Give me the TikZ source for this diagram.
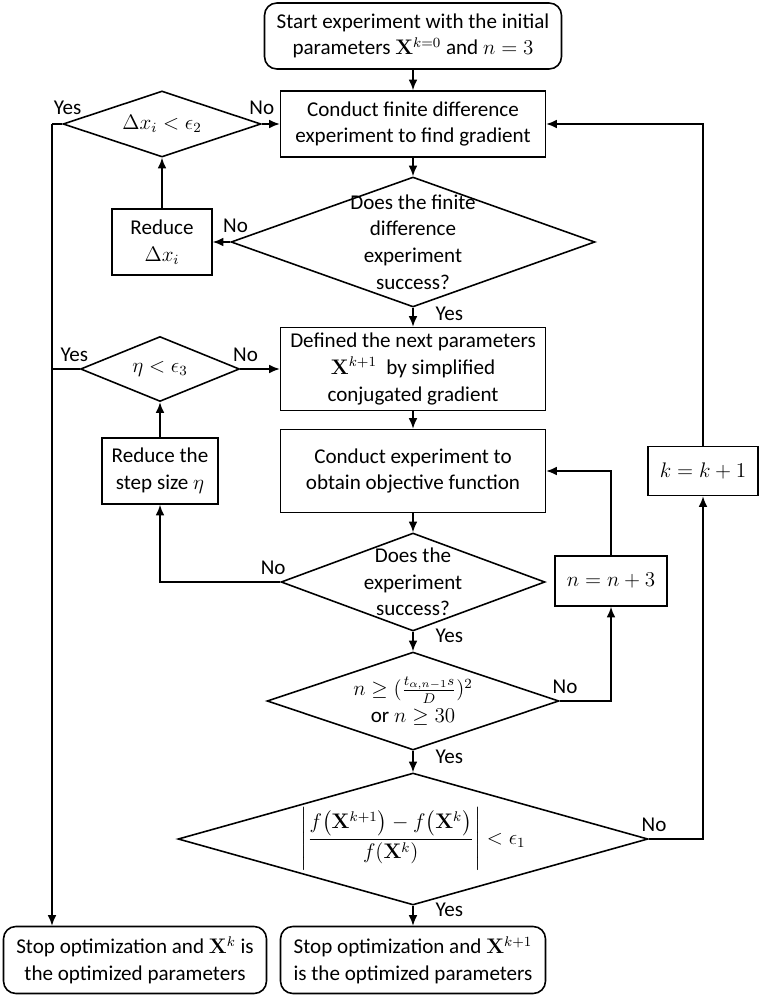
\documentclass[tikz,border=0pt]{standalone}
\usepackage[no-math]{fontspec}
\setmainfont{Carlito}
\usepackage{amsmath}
\usetikzlibrary{shapes.geometric,arrows.meta}

\begin{document}
\begin{tikzpicture}[x=0.02cm, y=-0.02cm, line width=0.9pt, >={Latex[length=6pt,width=5pt]},
    font=\fontsize{12pt}{15.2pt}\selectfont,
    box/.style={draw, align=center, inner sep=2pt},
    endbox/.style={box, rounded corners=7pt},
    dia/.style={draw, diamond, inner sep=0pt},
    txt/.style={align=center, inner sep=0pt},
    lbl/.style={inner sep=1pt}]
    \useasboundingbox (0,0) rectangle (762,1000);
    % Start
    \node[endbox, minimum width=5.94cm, minimum height=1.32cm] (start) at (413,36)
        {Start experiment with the initial\\ parameters $\mathbf{X}^{k=0}$ and $n=3$};
    % Gradient
    \node[box, minimum width=5.3cm, minimum height=1.32cm] (fdexp) at (413,124)
        {Conduct finite difference\\ experiment to find gradient};
    \node[dia, minimum width=3.96cm, minimum height=1.32cm] (dxchk) at (162,124) {};
    \node[txt] (dxchktext) at (dxchk) {$\Delta x_i<\epsilon_2$};
    \node[dia, minimum width=7.28cm, minimum height=2.6cm] (fdok) at (413,242) {};
    \node[txt] (fdoktext) at (fdok) {Does the finite\\ difference\\ experiment\\ success?};
    \node[box, minimum width=2cm, minimum height=1.32cm] (reddx) at (162,242) {Reduce\\ $\Delta x_i$};
    % Step
    \node[box, minimum width=5.3cm, minimum height=1.66cm] (define) at (413,369)
        {Defined the next parameters\\ $\mathbf{X}^{k+1}$\ \ by simplified\\ conjugated gradient};
    \node[dia, minimum width=3.18cm, minimum height=1.3cm] (etachk) at (160,369) {};
    \node[txt] (etachktext) at (etachk) {$\eta<\epsilon_3$};
    \node[box, minimum width=2.32cm, minimum height=1.32cm] (redeta) at (160,471) {Reduce the\\ step size $\eta$};
    \node[box, minimum width=5.3cm, minimum height=1.66cm] (objexp) at (413,471)
        {Conduct experiment to\\ obtain objective function};
    \node[box, minimum width=2.2cm, minimum height=0.98cm] (kinc) at (703,471) {$k=k+1$};
    \node[dia, minimum width=5.28cm, minimum height=1.96cm] (expok) at (413,582) {};
    \node[txt] (expoktext) at (expok) {Does the\\ experiment\\ success?};
    \node[box, minimum width=2.24cm, minimum height=1cm] (ninc) at (611,581) {$n=n+3$};
    % Stopping
    \node[dia, minimum width=5.84cm, minimum height=1.96cm] (nchk) at (413,701) {};
    \node[txt] (nchktext) at (nchk) {$n\geq(\frac{t_{\alpha,n-1}s}{D})^2$\\ or $n\geq30$};
    \node[dia, minimum width=9.4cm, minimum height=2.64cm] (conv) at (413,839) {};
    \node[txt] (convtext) at (conv)
        {$\left|\dfrac{f\bigl(\mathbf{X}^{k+1}\bigr)-f\bigl(\mathbf{X}^{k}\bigr)}{f(\mathbf{X}^{k})}\right|<\epsilon_1$};
    \node[endbox, minimum width=5.26cm, minimum height=1.34cm] (stopk) at (135,960)
        {Stop optimization and $\mathbf{X}^{k}$ is\\ the optimized parameters};
    \node[endbox, minimum width=5.3cm, minimum height=1.34cm] (stopnext) at (413,960)
        {Stop optimization and $\mathbf{X}^{k+1}$\\ is the optimized parameters};
    % Arrows
    \coordinate (lft) at (52,124);
    \draw[->] (start) -- (fdexp);
    \draw[->] (fdexp) -- (fdok);
    \draw[->] (fdok.west) -- node[lbl, pos=0, above, xshift=3pt, yshift=4pt]{No} (reddx.east);
    \draw[->] (reddx) -- (dxchk);
    \draw[->] (dxchk.east) -- node[lbl, pos=0, above, yshift=4pt]{No} (fdexp.west);
    \draw (dxchk.west) -- node[lbl, pos=0, above, xshift=3pt, yshift=4pt]{Yes} (lft);
    \draw[->] (lft) -- (lft |- stopk.north);
    \draw[->] (fdok) -- node[lbl, pos=0.3, anchor=west, xshift=0.4cm]{Yes} (define);
    \draw[->] (etachk.east) -- node[lbl, pos=0, above, xshift=3pt, yshift=3pt]{No} (define.west);
    \draw (etachk.west) -- node[lbl, pos=0, above, xshift=-3pt, yshift=3pt]{Yes} (etachk.west -| lft);
    \draw[->] (redeta) -- (etachk);
    \draw[->] (define) -- (objexp);
    \draw[->] (objexp) -- (expok);
    \draw[->] (expok.west) -| node[lbl, pos=0, above, xshift=-4pt, yshift=3pt]{No} (redeta.south);
    \draw[->] (expok) -- node[lbl, pos=0.2, anchor=west, xshift=0.4cm]{Yes} (nchk);
    \draw[->] (nchk.east) -| node[lbl, pos=0, above, xshift=3pt, yshift=3pt]{No} (ninc.south);
    \draw[->] (ninc.north) |- (objexp.east);
    \draw[->] (nchk) -- node[lbl, pos=0.3, anchor=west, xshift=0.4cm]{Yes} (conv);
    \draw[->] (conv.east) -| node[lbl, pos=0, above, xshift=3pt, yshift=3pt]{No} (kinc.south);
    \draw[->] (kinc.north) |- (fdexp.east);
    \draw[->] (conv) -- node[lbl, pos=0.2, anchor=west, xshift=0.4cm]{Yes} (stopnext);
\end{tikzpicture}
\end{document}
